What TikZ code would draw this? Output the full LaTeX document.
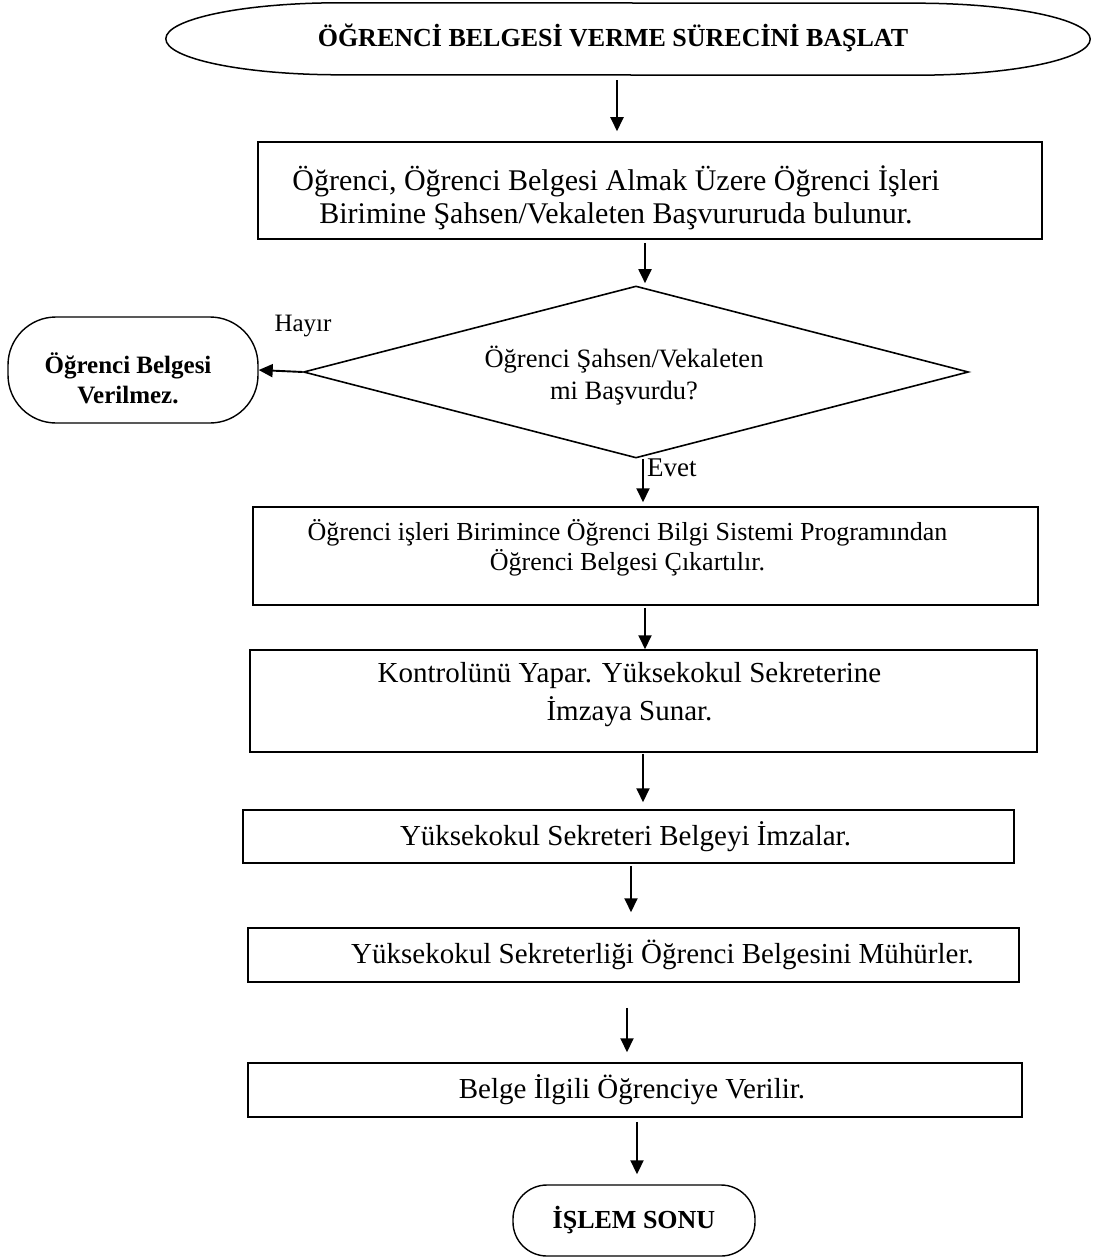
\documentclass[tikz,border=0pt]{standalone}
\usepackage{fontspec}
\setmainfont{Liberation Serif}
\usepackage{tikz}
\usetikzlibrary{arrows.meta,positioning,shapes.geometric}
\newcommand\boxfont{\fontsize{29pt}{33pt}\selectfont}
\newcommand\smallboxfont{\fontsize{26pt}{30pt}\selectfont}
\newcommand\titlefont{\fontsize{26pt}{30pt}\selectfont}
\newcommand\answerfont{\fontsize{25pt}{30pt}\selectfont}

\begin{document}
\begin{tikzpicture}[
  x=1pt, y=-1pt,
  procbox/.style={draw, line width=1.5pt, inner sep=0pt},
  boxtext/.style={font=\boxfont, align=center, inner sep=0pt},
  terminal/.style={draw, line width=1.4pt, inner sep=0pt},
  decision/.style={diamond, draw, line width=1.6pt, inner sep=0pt, aspect=3.87},
  flow/.style={-{Triangle[length=14pt,width=13pt]}, line width=1.9pt},
  answer/.style={font=\answerfont, inner sep=0pt}
]
  \useasboundingbox (0,0) rectangle (1094,1260);

  % start and end
  \node[inner sep=0pt, minimum width=924pt, minimum height=72pt,
        label={[boxtext, font=\bfseries\titlefont, xshift=-15pt, yshift=1pt]center:ÖĞRENCİ BELGESİ VERME SÜRECİNİ BAŞLAT}] (start) at (628,39) {};
  \draw[line width=1.5pt] ([xshift=174pt]start.north west)
    arc[start angle=90, end angle=270, x radius=174pt, y radius=36pt]
    -- ([xshift=-174pt]start.south east)
    arc[start angle=-90, end angle=90, x radius=174pt, y radius=36pt] -- cycle;

  \node[procbox, minimum width=784pt, minimum height=97pt,
        label={[boxtext, font=\fontsize{30pt}{33pt}\selectfont, xshift=-34pt, yshift=-7pt]center:{Öğrenci, Öğrenci Belgesi Almak Üzere Öğrenci İşleri\\Birimine Şahsen/Vekaleten Başvururuda bulunur.}}] (apply) at (650,190.5) {};

  \node[decision, minimum width=665pt, minimum height=172pt,
        label={[boxtext, font=\fontsize{26.5pt}{32pt}\selectfont, xshift=-12pt, yshift=-4pt]center:{Öğrenci Şahsen/Vekaleten\\mi Başvurdu?}}] (check) at (636,372) {};

  \node[terminal, rounded corners=48pt, minimum width=250pt, minimum height=106pt,
        label={[boxtext, font=\bfseries\fontsize{25pt}{30pt}\selectfont, xshift=-5pt, yshift=-8pt]center:{Öğrenci Belgesi\\Verilmez.}}] (reject) at (133,370) {};

  \node[procbox, minimum width=785pt, minimum height=98pt,
        label={[boxtext, font=\smallboxfont, xshift=-18pt, yshift=8pt]center:{Öğrenci işleri Birimince Öğrenci Bilgi Sistemi Programından\\Öğrenci Belgesi Çıkartılır.}}] (extract) at (645.5,556) {};

  \node[procbox, minimum width=787pt, minimum height=102pt,
        label={[boxtext, font=\fontsize{29pt}{38pt}\selectfont, xshift=-14pt, yshift=6pt]center:{Kontrolünü Yapar. Yüksekokul Sekreterine\\İmzaya Sunar.}}] (review) at (643.5,701) {};

  \node[procbox, minimum width=771pt, minimum height=53pt,
        label={[boxtext, xshift=-3pt]center:Yüksekokul Sekreteri Belgeyi İmzalar.}] (signoff) at (628.5,836.5) {};

  \node[procbox, minimum width=771pt, minimum height=54pt,
        label={[boxtext, xshift=29pt]center:Yüksekokul Sekreterliği Öğrenci Belgesini Mühürler.}] (seal) at (633.5,955) {};

  \node[procbox, minimum width=774pt, minimum height=54pt,
        label={[boxtext, xshift=-3pt]center:Belge İlgili Öğrenciye Verilir.}] (deliver) at (635,1090) {};

  \node[terminal, rounded corners=34pt, minimum width=242pt, minimum height=71pt,
        font=\bfseries\fontsize{26pt}{30pt}\selectfont] (finish) at (634,1220.5) {İŞLEM SONU};

  % answers
  \node[answer] (no) at (303,326) {Hayır};
  \node[answer, font=\fontsize{27pt}{30pt}\selectfont, anchor=west] (yes) at (647,468) {Evet};

  % flow
  \draw[flow, shorten <=5pt, shorten >=10pt] ([xshift=-11pt]start.south) -- ([xshift=-33pt]apply.north);
  \draw[flow, shorten <=3pt, shorten >=2pt] ([xshift=-5pt]apply.south) -- ([xshift=9pt]check.north);
  \draw[flow] (check.west) -- (reject.east);
  \draw[flow, shorten >=4pt] ([xshift=7pt]check.south) -- ([xshift=-2.5pt]extract.north);
  \draw[flow, shorten <=2pt] ([xshift=-0.5pt]extract.south) -- ([xshift=1.5pt]review.north);
  \draw[flow, shorten <=1pt, shorten >=7pt] ([xshift=-0.5pt]review.south) -- ([xshift=14.5pt]signoff.north);
  \draw[flow, shorten <=2pt, shorten >=15pt] ([xshift=2.5pt]signoff.south) -- ([xshift=-2.5pt]seal.north);
  \draw[flow, shorten <=25pt, shorten >=10pt] ([xshift=-6.5pt]seal.south) -- ([xshift=-8pt]deliver.north);
  \draw[flow, shorten <=4pt, shorten >=10pt] ([xshift=2pt]deliver.south) -- ([xshift=3pt]finish.north);
\end{tikzpicture}
\end{document}
